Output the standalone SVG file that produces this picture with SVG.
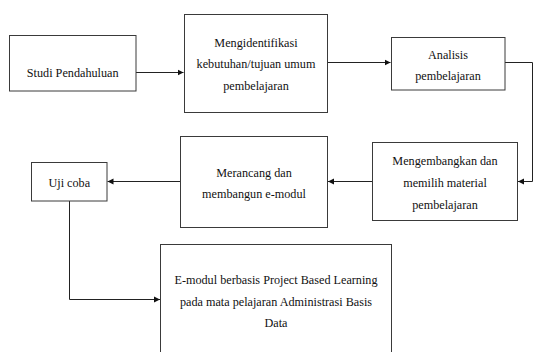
<svg xmlns="http://www.w3.org/2000/svg" width="535" height="352" viewBox="0 0 535 352">
<style>
.box{fill:#fff;stroke:#3a3a3a;stroke-width:1}
.t{font-family:'Liberation Serif','Tinos','DejaVu Serif',serif;font-size:12.2px;fill:#111;text-anchor:middle}
.c{fill:none;stroke:#222;stroke-width:1}
</style>
<defs>
<marker id="ah" markerWidth="7" markerHeight="7" refX="6" refY="3.5" orient="auto" markerUnits="userSpaceOnUse">
<path d="M0,0.5 L6,3.5 L0,6.5 Z" fill="#111"/>
</marker>
</defs>
<rect width="535" height="352" fill="#fff"/>
<g id="connectors">
<path class="c" d="M136,72.5 H183.5" marker-end="url(#ah)"/>
<path class="c" d="M327.5,62.5 H390.5" marker-end="url(#ah)"/>
<path class="c" d="M505,62.5 H532.5 V181.5 H518" marker-end="url(#ah)"/>
<path class="c" d="M372.5,181.5 H328" marker-end="url(#ah)"/>
<path class="c" d="M180.5,181.5 H107.5" marker-end="url(#ah)"/>
<path class="c" d="M69.5,201 V299.5 H160" marker-end="url(#ah)"/>
</g>
<g id="studi">
<rect class="box" x="9.5" y="35.5" width="126.5" height="55.5"/>
<text class="t" x="72.7" y="76.5">Studi Pendahuluan</text>
</g>
<g id="mengidentifikasi">
<rect class="box" x="184.5" y="14.5" width="143" height="98"/>
<text class="t" x="256" y="47">Mengidentifikasi</text>
<text class="t" x="256" y="68">kebutuhan/tujuan umum</text>
<text class="t" x="256" y="90">pembelajaran</text>
</g>
<g id="analisis">
<rect class="box" x="391.5" y="37.5" width="113.5" height="52.5"/>
<text class="t" x="448" y="58.5">Analisis</text>
<text class="t" x="448" y="80">pembelajaran</text>
</g>
<g id="mengembangkan">
<rect class="box" x="372.5" y="142.5" width="145" height="78"/>
<text class="t" x="445" y="165">Mengembangkan dan</text>
<text class="t" x="445" y="186.5">memilih material</text>
<text class="t" x="445" y="209">pembelajaran</text>
</g>
<g id="merancang">
<rect class="box" x="180.5" y="136.5" width="147" height="91"/>
<text class="t" x="254" y="176.5">Merancang dan</text>
<text class="t" x="254" y="197.5">membangun e-modul</text>
</g>
<g id="ujicoba">
<rect class="box" x="31.5" y="162.5" width="75.5" height="38.5"/>
<text class="t" x="69.3" y="187">Uji coba</text>
</g>
<g id="emodul">
<rect class="box" x="160.5" y="244.5" width="231" height="120"/>
<text class="t" x="276" y="284">E-modul berbasis Project Based Learning</text>
<text class="t" x="276" y="305.5">pada mata pelajaran Administrasi Basis</text>
<text class="t" x="276" y="327">Data</text>
</g>
</svg>
